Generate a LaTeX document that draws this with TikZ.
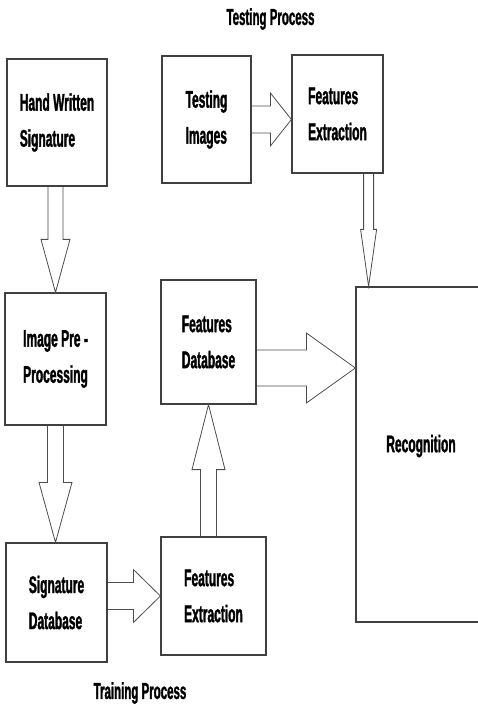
\documentclass[tikz,border=0pt]{standalone}
\usepackage{fontspec}
\usepackage{tikz}
\usetikzlibrary{calc}
\newfontfamily\boxfont[FakeStretch=0.5, BoldFeatures={FakeBold=1.3}]{Liberation Sans}
\tikzstyle{procbox} = [draw=black!75, line width=1.2pt, fill=white,
    rectangle, align=left, inner sep=0pt,
    font=\boxfont\bfseries\fontsize{24}{36}\selectfont]
\tikzstyle{steptitle} = [font=\boxfont\bfseries\fontsize{23}{28}\selectfont]
\tikzstyle{flowarrow} = [draw=black!70, line width=0.8pt, line join=miter]
\newcommand{\blockarrow}[5]{%
  \path ($(#2)!#5pt!(#1)$) coordinate (hb);
  \draw[flowarrow] ($(#1)!#3pt!90:(#2)$) -- ($(hb)!#3pt!90:(#2)$)
    -- ($(hb)!#4pt!90:(#2)$) -- (#2) -- ($(hb)!#4pt!-90:(#2)$)
    -- ($(hb)!#3pt!-90:(#2)$) -- ($(#1)!#3pt!-90:(#2)$);
}

\begin{document}
\begin{tikzpicture}[x=1pt, y=-1pt]
\useasboundingbox (0,0) rectangle (478,708);
\clip (0,0) rectangle (478,708);
\node[steptitle] (testt) at (270.5,19) {Testing Process};
\node[steptitle] (traint) at (140,693) {Training Process};

\node[procbox, minimum width=100pt, minimum height=127pt] (hws) at (57,122.5) {Hand Written\\Signature};
\node[procbox, minimum width=89pt, minimum height=127pt] (ti) at (206.5,119.5) {Testing\\Images};
\node[procbox, minimum width=91pt, minimum height=118pt] (fe1) at (337.5,114) {Features\\Extraction};
\node[procbox, minimum width=101pt, minimum height=132pt] (ip) at (55.5,359) {Image Pre -\\Processing};
\node[procbox, minimum width=95pt, minimum height=124pt] (fd) at (208.5,342) {Features\\Database};
\node[procbox, minimum width=101pt, minimum height=119pt] (sd) at (56.5,602.5) {Signature\\Database};
\node[procbox, minimum width=105pt, minimum height=118pt] (fe2) at (213.5,596) {Features\\Extraction};
\node[procbox, minimum width=130pt, minimum height=335pt, text depth=22pt, text width=124pt, align=center] (rec) at (421,454.5) {Recognition};

\coordinate (a1) at (ip.north |- hws.south);
\coordinate (a2) at (fe2.west -| sd.east);
\coordinate (a3) at (fd.south |- fe2.north);
\coordinate (a4) at ($(fd.east)+(0,26)$);
\coordinate (a5) at ($(fe1.south east)+(-15,0)$);

\blockarrow{a1}{ip.north}{7.5}{14.5}{53}
\blockarrow{ip.south}{ip.south |- sd.north}{8}{16.5}{60}
\blockarrow{a2}{fe2.west}{13.5}{26.5}{27}
\blockarrow{a3}{fd.south}{8}{16.5}{65}
\blockarrow{a4}{rec.west |- a4}{18}{35}{49}
\blockarrow{ti.east}{fe1.west |- ti.east}{13.5}{26.5}{21}
\blockarrow{a5}{rec.north -| a5}{5}{8}{57}
\end{tikzpicture}
\end{document}
